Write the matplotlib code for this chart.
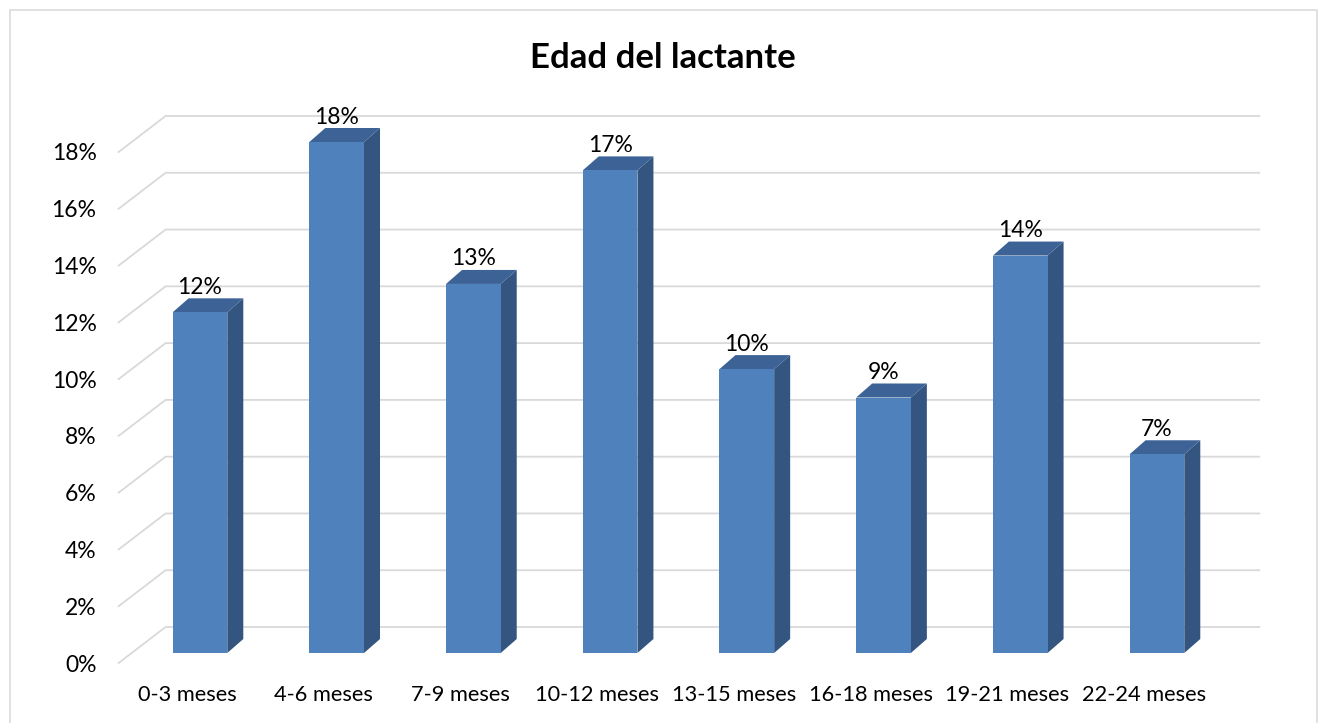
import numpy as np
import matplotlib
matplotlib.use("Agg")
import matplotlib.pyplot as plt
import matplotlib.transforms as mtransforms
from matplotlib.patches import Polygon, Rectangle

plt.rcParams['font.family'] = ['Lato', 'DejaVu Sans']

# data
categories = ["0-3 meses", "4-6 meses", "7-9 meses", "10-12 meses",
              "13-15 meses", "16-18 meses", "19-21 meses", "22-24 meses"]
values = [12, 18, 13, 17, 10, 9, 14, 7]
yticks = [0, 2, 4, 6, 8, 10, 12, 14, 16, 18]
title = "Edad del lactante"

front_col = "#4F81BD"
side_col = "#34557F"
top_col = "#3C6296"
grid_col = "#D9D9D9"

W, H, DPI = 1324, 723, 100
fig = plt.figure(figsize=(W / DPI, H / DPI), dpi=DPI)

# axes = plane of the bar fronts
ax_left, ax_right = 131.6, 1225.3
ax_bottom, ax_top = 653, 142
ax = fig.add_axes([ax_left / W, (H - ax_bottom) / H,
                   (ax_right - ax_left) / W, (ax_bottom - ax_top) / H])
ax.set_xlim(-0.5, 7.5)
ax.set_ylim(0, 18)
ax.axis("off")


def shift(px, py):
    # offset in pixels (py positive = up)
    return ax.transData + mtransforms.ScaledTranslation(px / DPI, py / DPI, fig.dpi_scale_trans)


front_tr = shift(-13, -10)   # front edge of the floor / wall
back_tr = shift(34, 26)      # back wall

# gridlines: diagonal on the side wall + horizontal on the back wall
x0, x1 = -0.5, 7.5
for v in yticks:
    pf = front_tr.transform((x0, v))
    pb = back_tr.transform((x0, v))
    pe = back_tr.transform((x1, v))
    inv = fig.transFigure.inverted()
    pts = inv.transform(np.array([pf, pb, pe]))
    fig.add_artist(plt.Line2D(pts[:, 0], pts[:, 1], color=grid_col, lw=1.3, zorder=0))
    ax.text(x0, v, f"{v}%", transform=shift(-13 - 22, -12), ha="right", va="center",
            fontsize=16.5, color="black")

# bars with side and top faces
bw = 0.40
dx, dy = 16, 14
xs = np.arange(len(categories))
ax.bar(xs, values, width=bw, color=front_col, zorder=3, clip_on=False)
for x, v in zip(xs, values):
    l, r = x - bw / 2, x + bw / 2
    pfr_b = ax.transData.transform((r, 0))
    pfr_t = ax.transData.transform((r, v))
    pfl_t = ax.transData.transform((l, v))
    inv = ax.transData.inverted()
    side = [pfr_b, pfr_t, pfr_t + [dx, dy], pfr_b + [dx, dy]]
    top = [pfl_t, pfr_t, pfr_t + [dx, dy], pfl_t + [dx, dy]]
    ax.add_patch(Polygon(inv.transform(np.array(side)), closed=True, facecolor=side_col,
                         edgecolor="none", zorder=2, clip_on=False))
    ax.add_patch(Polygon(inv.transform(np.array(top)), closed=True, facecolor=top_col,
                         edgecolor="none", zorder=2, clip_on=False))
    ax.text(x, v, f"{v}%", transform=shift(0, 25), ha="center", va="center",
            fontsize=16.5, color="black", zorder=4)

# category labels under the front edge
for x, c in zip(xs, categories):
    ax.text(x, 0, c, transform=shift(-13, -42), ha="center", va="center",
            fontsize=15.7, color="black")

fig.text(663 / W, 1 - 58 / H, title, ha="center", va="center",
         fontsize=25, fontweight="bold", color="black")

# chart border
fig.add_artist(Rectangle((10 / W, -0.01), (1317 - 10) / W, (H - 10) / H + 0.01,
                         transform=fig.transFigure, fill=False, edgecolor="#DCDCDC", lw=1.2))

fig.savefig("out.png", dpi=DPI, facecolor="white")
